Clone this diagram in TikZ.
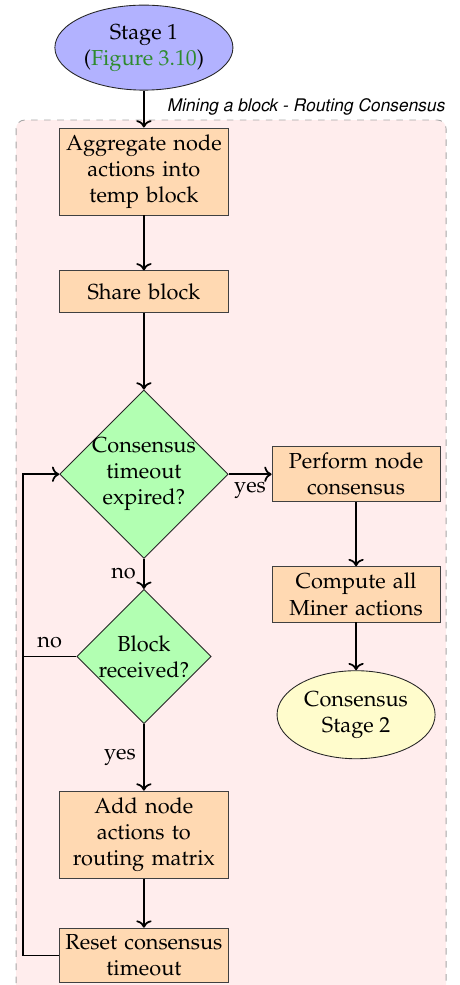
\documentclass[tikz,border=0pt]{standalone}
\usepackage[T1]{fontenc}
\usepackage{mathpazo}
\usepackage{helvet}
\usepackage{xcolor}
\usepackage{tikz}
\usetikzlibrary{arrows.meta,positioning,calc,backgrounds,shapes.geometric}
\definecolor{figgreen}{RGB}{46,139,46}
\definecolor{regionbg}{RGB}{255,237,237}
\tikzset{
  stage/.style={ellipse,draw=black!85,fill=blue!30,minimum width=81.9pt,
                minimum height=39.1pt,align=center,inner sep=1pt},
  stagetwo/.style={stage,fill=yellow!20,minimum width=72.7pt,minimum height=40.5pt},
  proc/.style={rectangle,draw=black!75,fill=orange!30,text width=75pt,
               inner xsep=1.15pt,inner ysep=3pt,minimum height=19pt,align=center},
  decision/.style={diamond,aspect=1,draw=black!85,fill=green!30,
                   align=center,inner sep=-1pt},
  region/.style={draw=gray!70,dashed,fill=regionbg,rounded corners=4pt},
  regionlabel/.style={font=\footnotesize\sffamily\itshape,inner sep=0pt},
  arr/.style={->,line width=0.8pt},
  line/.style={line width=0.8pt},
}
\begin{document}
\begin{tikzpicture}[>=To]
  \useasboundingbox (0,0) rectangle (211.6pt,-453.1pt);

  \node[stage] (stage1) at (66.2pt,-21.9pt) {Stage 1\\(\textcolor{figgreen}{Figure 3.10})};
  \node[proc,below=17pt of stage1] (aggr) {Aggregate node\\actions into\\temp block};
  \node[proc,below=25.3pt of aggr] (share) {Share block};
  \node[decision,minimum size=77.3pt,below=35.4pt of share] (timeout) {Consensus\\timeout\\expired?};
  \node[decision,minimum size=61.8pt,below=13.8pt of timeout] (received) {Block\\received?};
  \node[proc,below=30.6pt of received] (addrm) {Add node\\actions to\\routing matrix};
  \node[proc,below=22.6pt of addrm] (reset) {Reset consensus\\timeout};

  \node[proc,right=19.8pt of timeout] (perform) {Perform node\\consensus};
  \node[proc,below=29.4pt of perform] (miner) {Compute all\\Miner actions};
  \node[stagetwo,below=22pt of miner] (stage2) {Consensus\\Stage 2};

  \coordinate (loopx) at (10.6pt,0);

  % dashed region behind the mining steps
  \begin{scope}[on background layer]
    \draw[region] (7.4pt,-55.2pt) rectangle (205.2pt,-470pt);
  \end{scope}
  \node[regionlabel,anchor=base east] (minlabel) at (204.7pt,-51.5pt) {Mining a block - Routing Consensus};

  \draw[arr] (stage1) -- (aggr);
  \draw[arr] (aggr) -- (share);
  \draw[arr] (share) -- (timeout);
  \draw[arr] (timeout) -- node[below] {yes} (perform);
  \draw[arr] (timeout) -- node[left] {no} (received);
  \draw[arr] (received) -- node[left] {yes} (addrm);
  \draw[arr] (addrm) -- (reset);
  \draw[arr] (perform) -- (miner);
  \draw[arr] (miner) -- (stage2);
  \draw[line] (received.west) -- node[above] {no} (loopx |- received.west);
  \draw[arr] (reset.west) -| (loopx |- timeout.west) -- (timeout.west);
\end{tikzpicture}
\end{document}
